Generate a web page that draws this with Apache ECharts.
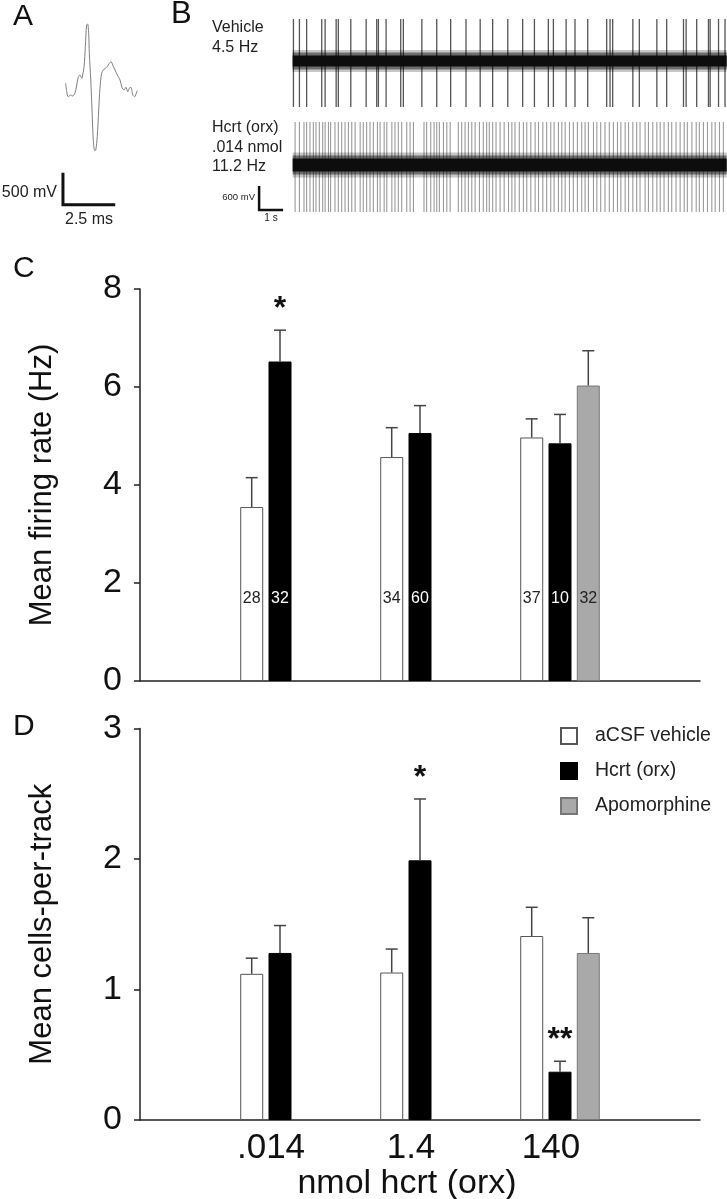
<!DOCTYPE html>
<html><head><meta charset="utf-8">
<script src="https://cdn.jsdelivr.net/npm/echarts@6/dist/echarts.min.js"></script>
<style>html,body{margin:0;padding:0;background:#fff}#c{width:727px;height:1199px}</style>
</head><body><div id="c"></div>
<script>
const FONT = "'Liberation Sans', Arial, Helvetica, sans-serif";

// ---------- Panel A: averaged spike waveform (time in ms, voltage in mV) ----------
const waveTimeMs = [0.00,0.05,0.12,0.24,0.33,0.44,0.53,0.60,0.68,0.77,0.81,0.88,0.94,1.00,1.05,1.10,1.13,1.20,1.26,1.32,1.39,1.44,1.51,1.58,1.64,1.72,1.80,1.89,1.99,2.09,2.17,2.25,2.36,2.47,2.60,2.69,2.79,2.88,2.97,3.04,3.12,3.21,3.30,3.40,3.43];
const waveMv     = [198,67,-11,16,0,42,172,292,328,277,328,458,770,1109,1125,980,667,250,-219,-688,-855,-844,-636,-219,120,355,406,433,458,511,536,484,406,328,250,136,94,136,67,120,136,16,-11,67,83];
const scaleBarA_ms = 2.5;
const scaleBarA_mV = 500;

// ---------- Panel B: extracellular traces (spike times in s) ----------
const traceDurationS = 18.08;
const vehicleSpikeTimesS = [0.03,0.28,0.58,1.21,1.35,1.81,1.90,2.42,3.06,3.50,3.57,3.89,4.50,4.61,5.38,6.00,6.58,7.22,7.81,8.33,8.96,9.58,10.07,10.65,10.86,11.39,11.76,12.29,13.08,13.22,13.33,14.17,14.44,15.17,15.58,16.28,16.39,16.83,17.32,17.39,17.74,18.01];
const hcrtSpikeTimesS = [0.10,0.28,0.47,0.58,0.72,0.86,0.97,1.11,1.25,1.35,1.49,1.58,1.76,1.90,2.04,2.18,2.32,2.46,2.60,2.81,2.94,3.08,3.22,3.36,3.53,3.64,3.81,3.92,4.13,4.26,4.40,4.54,4.75,4.89,5.03,5.47,5.58,5.75,5.89,6.00,6.11,6.28,6.42,6.56,6.90,7.04,7.18,7.32,7.46,7.60,7.78,7.94,8.08,8.19,8.33,8.47,8.64,8.81,8.99,9.13,9.26,9.44,9.61,9.75,9.92,10.10,10.24,10.42,10.58,10.75,10.89,11.07,11.21,11.35,11.53,11.69,11.86,12.04,12.18,12.32,12.53,12.67,12.83,13.01,13.19,13.36,13.53,13.67,13.85,13.99,14.17,14.33,14.47,14.68,14.82,15.00,15.17,15.31,15.47,15.65,15.79,15.97,16.14,16.31,16.44,16.63,16.81,16.94,17.11,17.28,17.46,17.60,17.78,17.94];
const scaleBarB_s = 1;
const scaleBarB_mV = 600;

// ---------- Panels C & D: bar data ----------
const doseLabels = ['.014', '1.4', '140'];
const seriesNames = ['aCSF vehicle', 'Hcrt (orx)', 'Apomorphine'];

const firingVehicle    = [3.55, 4.57, 4.97];
const firingVehicleSem = [0.60, 0.60, 0.38];
const firingHcrt       = [6.52, 5.06, 4.85];
const firingHcrtSem    = [0.64, 0.56, 0.59];
const firingApo        = [null, null, 6.03];
const firingApoSem     = [null, null, 0.71];
const nVehicle = [28, 34, 37];
const nHcrt    = [32, 60, 10];
const nApo     = [null, null, 32];
const firingHcrtSig = ['*', '', ''];

const cellsVehicle    = [1.12, 1.13, 1.41];
const cellsVehicleSem = [0.12, 0.18, 0.22];
const cellsHcrt       = [1.28, 1.99, 0.37];
const cellsHcrtSem    = [0.21, 0.47, 0.08];
const cellsApo        = [null, null, 1.28];
const cellsApoSem     = [null, null, 0.27];
const cellsHcrtSig = ['', '*', '**'];

// ---------- build ----------
const BAR_W = 23, BAR_GAP_PCT = 23;
const SLOT = BAR_W * (1 + BAR_GAP_PCT / 100);
const cats = [''].concat(doseLabels, ['']);
const pad = arr => ['-'].concat(arr.map(v => v == null ? '-' : v), ['-']);

const barColors = [
  {color: '#ffffff', borderColor: '#555', borderWidth: 1},
  {color: '#000000', borderColor: '#000', borderWidth: 1},
  {color: '#a9a9a9', borderColor: '#777', borderWidth: 1}
];

function barSeries(axis, valuesList, nList) {
  return valuesList.map((vals, i) => {
    const s = {
      name: seriesNames[i], type: 'bar', xAxisIndex: axis, yAxisIndex: axis,
      data: pad(vals), barWidth: BAR_W, barGap: BAR_GAP_PCT + '%',
      itemStyle: barColors[i], emphasis: {disabled: true}, z: 2
    };
    if (nList) {
      s.label = {
        show: true, position: 'insideBottom', distance: 74,
        formatter: p => { const v = nList[i][p.dataIndex - 1]; return v == null ? '' : String(v); },
        color: i === 1 ? '#fff' : '#222', fontSize: 16, fontFamily: FONT
      };
    }
    return s;
  });
}

function errorSeries(axis, valuesList, semList) {
  const rows = [];
  valuesList.forEach((vals, i) => vals.forEach((v, j) => {
    if (v != null) rows.push([j + 1, v, semList[i][j], i]);
  }));
  return {
    type: 'custom', xAxisIndex: axis, yAxisIndex: axis, data: rows, z: 3,
    encode: {x: 0, y: 1}, silent: true,
    renderItem: (params, api) => {
      const base = api.coord([api.value(0), api.value(1)]);
      const top = api.coord([api.value(0), api.value(1) + api.value(2)]);
      const x = base[0] + (api.value(3) - 1) * SLOT;
      const st = {stroke: '#444', lineWidth: 1.5};
      return {type: 'group', children: [
        {type: 'line', shape: {x1: x, y1: base[1], x2: x, y2: top[1]}, style: st},
        {type: 'line', shape: {x1: x - 6, y1: top[1], x2: x + 6, y2: top[1]}, style: st}
      ]};
    }
  };
}

function starSeries(axis, vals, sems, sig, slot) {
  const rows = [], txt = [];
  sig.forEach((s, j) => { if (s) { rows.push([j + 1, vals[j] + sems[j]]); txt.push(s); } });
  return {
    type: 'custom', xAxisIndex: axis, yAxisIndex: axis, data: rows, z: 4,
    encode: {x: 0, y: 1}, silent: true,
    renderItem: (params, api) => {
      const p = api.coord([api.value(0), api.value(1)]);
      return {type: 'text', x: p[0] + (slot - 1) * SLOT, y: p[1] - 21,
        style: {text: txt[params.dataIndex], fontSize: 32, fontWeight: 'bold', fontFamily: FONT,
                fill: '#111', align: 'center', verticalAlign: 'middle'}};
    }
  };
}

function spikeSeries(axis, times, topMv, botMv, color, width) {
  return {
    type: 'custom', xAxisIndex: axis, yAxisIndex: axis, data: times.map(t => [t, 0]),
    encode: {x: 0, y: 1}, silent: true, z: 1,
    renderItem: (params, api) => {
      const a = api.coord([api.value(0), topMv]);
      const b = api.coord([api.value(0), botMv]);
      return {type: 'line', shape: {x1: a[0], y1: a[1], x2: b[0], y2: b[1]}, style: {stroke: color, lineWidth: width}};
    }
  };
}

function bandSeries(axis, width, color, z) {
  return {type: 'line', xAxisIndex: axis, yAxisIndex: axis, data: [[0, 0], [traceDurationS, 0]],
    symbol: 'none', lineStyle: {color: color, width: width, cap: 'butt'}, silent: true, z: z};
}

const hiddenValAxis = (g, min, max) => ({gridIndex: g, type: 'value', min: min, max: max, show: false});

const barYAxis = (g, max, interval, name, gap) => ({
  gridIndex: g, type: 'value', min: 0, max: max, interval: interval,
  axisLine: {show: true, lineStyle: {color: '#222', width: 1.5}},
  axisTick: {show: true, length: 6, inside: false, lineStyle: {color: '#222', width: 1.5}},
  axisLabel: {fontSize: 34, color: '#111', fontFamily: FONT, margin: 18},
  splitLine: {show: false},
  name: name, nameLocation: 'middle', nameRotate: 90, nameGap: gap,
  nameTextStyle: {fontSize: 31, color: '#111', fontFamily: FONT}
});

const barXAxis = (g, showLabels) => ({
  gridIndex: g, type: 'category', data: cats, boundaryGap: false,
  axisLine: {show: true, lineStyle: {color: '#222', width: 1.5}},
  axisTick: {show: false},
  axisLabel: {show: showLabels, fontSize: 35, color: '#111', fontFamily: FONT, margin: 11, padding: [0, 18, 0, 0]},
  splitLine: {show: false},
  name: showLabels ? 'nmol hcrt (orx)' : '', nameLocation: 'middle', nameGap: 41,
  nameTextStyle: {fontSize: 34, color: '#111', fontFamily: FONT, padding: [0, 26, 0, 0]}
});

// B panel time axis starts a little before 0 so the scale bar fits in its grid
const B_T0 = -1.6;
const gridBase = {outerBoundsMode: 'none', containLabel: false};

const option = {
  animation: false,
  backgroundColor: '#fff',
  textStyle: {fontFamily: FONT},
  grid: [
    Object.assign({left: 61.5, top: 19.2, width: 76.3, height: 192}, gridBase),
    Object.assign({left: 254.3, top: 17, width: 472.4, height: 92}, gridBase),
    Object.assign({left: 254.3, top: 121, width: 472.4, height: 92}, gridBase),
    Object.assign({left: 140, top: 289, width: 560, height: 392}, gridBase),
    Object.assign({left: 140, top: 728.5, width: 560, height: 391.5}, gridBase)
  ],
  xAxis: [
    hiddenValAxis(0, -0.2, 3.45),
    hiddenValAxis(1, B_T0, traceDurationS),
    hiddenValAxis(2, B_T0, traceDurationS),
    barXAxis(3, false),
    barXAxis(4, true)
  ],
  yAxis: [
    hiddenValAxis(0, -1800, 1200),
    hiddenValAxis(1, -1200, 1100),
    hiddenValAxis(2, -1200, 1100),
    barYAxis(3, 8, 2, 'Mean firing rate (Hz)', 82),
    barYAxis(4, 3, 1, 'Mean cells-per-track', 82)
  ],
  legend: {
    data: seriesNames, orient: 'vertical', left: 555, top: 721,
    itemWidth: 16, itemHeight: 16, itemGap: 15, icon: 'rect', selectedMode: false,
    textStyle: {fontSize: 19.5, color: '#222', fontFamily: FONT, padding: [0, 0, 0, 13]}
  },
  graphic: [
    {type: 'text', left: 13, top: 2, style: {text: 'A', fontSize: 30, fontFamily: FONT, fill: '#111'}},
    {type: 'text', left: 171, top: -1, style: {text: 'B', fontSize: 31, fontFamily: FONT, fill: '#111'}},
    {type: 'text', left: 13, top: 254, style: {text: 'C', fontSize: 30, fontFamily: FONT, fill: '#111'}},
    {type: 'text', left: 13, top: 712, style: {text: 'D', fontSize: 30, fontFamily: FONT, fill: '#111'}},
    {type: 'text', x: 212, y: 28, style: {text: 'Vehicle', fontSize: 16, fontFamily: FONT, fill: '#222', verticalAlign: 'middle'}},
    {type: 'text', x: 212, y: 48, style: {text: '4.5 Hz', fontSize: 16, fontFamily: FONT, fill: '#222', verticalAlign: 'middle'}},
    {type: 'text', x: 212, y: 128, style: {text: 'Hcrt (orx)', fontSize: 16, fontFamily: FONT, fill: '#222', verticalAlign: 'middle'}},
    {type: 'text', x: 212, y: 148, style: {text: '.014 nmol', fontSize: 16, fontFamily: FONT, fill: '#222', verticalAlign: 'middle'}},
    {type: 'text', x: 212, y: 167, style: {text: '11.2 Hz', fontSize: 16, fontFamily: FONT, fill: '#222', verticalAlign: 'middle'}},
    {type: 'text', x: 57, y: 193, style: {text: scaleBarA_mV + ' mV', fontSize: 16, fontFamily: FONT, fill: '#222', align: 'right', verticalAlign: 'middle'}},
    {type: 'text', x: 89, y: 220, style: {text: scaleBarA_ms + ' ms', fontSize: 16, fontFamily: FONT, fill: '#222', align: 'center', verticalAlign: 'middle'}},
    {type: 'text', x: 255, y: 197, style: {text: scaleBarB_mV + ' mV', fontSize: 9.5, fontFamily: FONT, fill: '#222', align: 'right', verticalAlign: 'middle'}},
    {type: 'text', x: 271, y: 218, style: {text: scaleBarB_s + ' s', fontSize: 10, fontFamily: FONT, fill: '#222', align: 'center', verticalAlign: 'middle'}}
  ],
  series: [
    // Panel A
    {type: 'line', xAxisIndex: 0, yAxisIndex: 0, data: waveTimeMs.map((t, i) => [t, waveMv[i]]),
     symbol: 'none', smooth: 0.3, lineStyle: {color: '#808080', width: 1}, silent: true},
    {type: 'line', xAxisIndex: 0, yAxisIndex: 0, clip: false, symbol: 'none', silent: true,
     data: [[-0.13, -1700 + scaleBarA_mV], [-0.13, -1700], [-0.13 + scaleBarA_ms, -1700]],
     lineStyle: {color: '#111', width: 3, join: 'miter'}},
    // Panel B vehicle
    spikeSeries(1, vehicleSpikeTimesS, 1050, -1150, '#555', 1.3),
    bandSeries(1, 22, 'rgba(0,0,0,0.22)', 2),
    bandSeries(1, 17, 'rgba(0,0,0,0.45)', 2),
    bandSeries(1, 11, '#0d0d0d', 2),
    // Panel B hcrt
    spikeSeries(2, hcrtSpikeTimesS, 1075, -1175, '#9a9a9a', 1.1),
    bandSeries(2, 25, 'rgba(0,0,0,0.22)', 2),
    bandSeries(2, 19, 'rgba(0,0,0,0.45)', 2),
    bandSeries(2, 13, '#0d0d0d', 2),
    {type: 'line', xAxisIndex: 2, yAxisIndex: 2, clip: false, symbol: 'none', silent: true,
     data: [[-1.40, -1125 + scaleBarB_mV], [-1.40, -1125], [-1.40 + scaleBarB_s, -1125]],
     lineStyle: {color: '#111', width: 2.5, join: 'miter'}},
    // Panel C
    ...barSeries(3, [firingVehicle, firingHcrt, firingApo], [nVehicle, nHcrt, nApo]),
    errorSeries(3, [firingVehicle, firingHcrt, firingApo], [firingVehicleSem, firingHcrtSem, firingApoSem]),
    starSeries(3, firingHcrt, firingHcrtSem, firingHcrtSig, 1),
    // Panel D
    ...barSeries(4, [cellsVehicle, cellsHcrt, cellsApo], null),
    errorSeries(4, [cellsVehicle, cellsHcrt, cellsApo], [cellsVehicleSem, cellsHcrtSem, cellsApoSem]),
    starSeries(4, cellsHcrt, cellsHcrtSem, cellsHcrtSig, 1)
  ]
};

const chart = echarts.init(document.getElementById('c'), null, {renderer: 'canvas'});
chart.setOption(option);
</script></body></html>
